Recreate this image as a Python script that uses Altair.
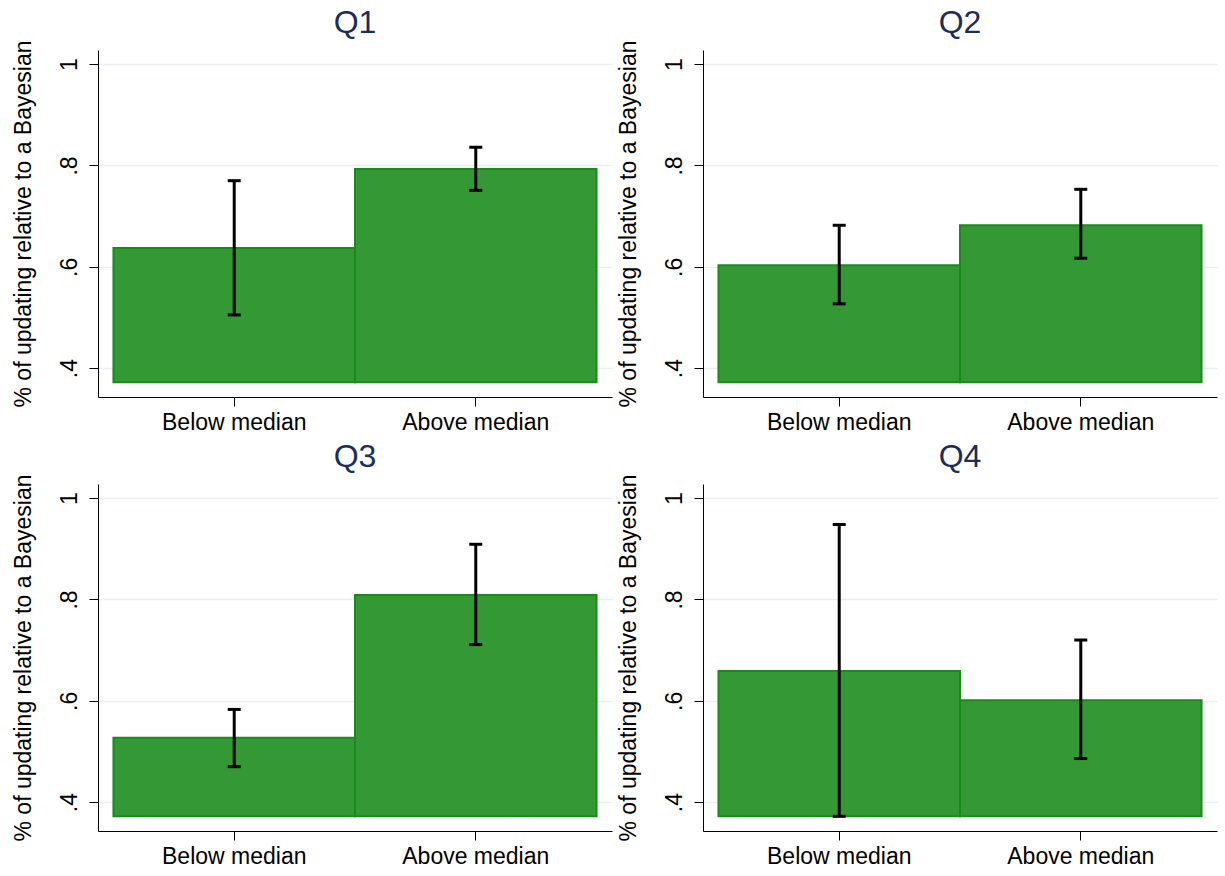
import altair as alt
import pandas as pd

# Share of updating relative to a Bayesian, by quartile panel and group
panels = ["Q1", "Q2", "Q3", "Q4"]
groups = ["Below median", "Above median"]
means = [[0.637, 0.793], [0.603, 0.682], [0.527, 0.809], [0.659, 0.601]]
ci_low = [[0.505, 0.751], [0.527, 0.617], [0.470, 0.711], [0.372, 0.486]]
ci_high = [[0.770, 0.836], [0.682, 0.753], [0.583, 0.909], [0.948, 0.720]]
bar_base = 0.372
y_ticks = [0.4, 0.6, 0.8, 1.0]
y_domain = [0.343, 1.028]

rows = []
for i, p in enumerate(panels):
    for j, g in enumerate(groups):
        rows.append({"panel": p, "group": g, "mean": means[i][j],
                     "lo": ci_low[i][j], "hi": ci_high[i][j], "base": bar_base})
df = pd.DataFrame(rows)

FONT = "Liberation Sans"
Y_TITLE = "% of updating relative to a Bayesian"


def panel(name):
    base = alt.Chart(df).transform_filter(alt.datum.panel == name)
    x = alt.X("group:N", sort=groups,
              scale=alt.Scale(paddingInner=0, paddingOuter=0.064),
              axis=alt.Axis(title=None, labelAngle=0, tickSize=9,
                            labelPadding=5, grid=False))
    yscale = alt.Scale(domain=y_domain, nice=False, zero=False)
    bars = base.mark_bar(fill="#349934", stroke="#1a8a1a", strokeWidth=2).encode(
        x=x,
        y=alt.Y("mean:Q", scale=yscale,
                axis=alt.Axis(title=Y_TITLE, values=y_ticks, tickSize=9,
                              labelAngle=270, labelAlign="center",
                              labelBaseline="bottom", labelPadding=8,
                              titlePadding=23,
                              labelExpr="datum.value >= 1 ? '1' : slice(format(datum.value, '.1f'), 1)")),
        y2="base:Q",
    )
    rule = base.mark_rule(color="black", strokeWidth=3).encode(
        x=x, y=alt.Y("lo:Q", scale=yscale), y2="hi:Q")
    cap_lo = base.mark_tick(color="black", size=13, thickness=3, opacity=1).encode(
        x=x, y=alt.Y("lo:Q", scale=yscale))
    cap_hi = base.mark_tick(color="black", size=13, thickness=3, opacity=1).encode(
        x=x, y=alt.Y("hi:Q", scale=yscale))
    return alt.layer(bars, rule, cap_lo, cap_hi).properties(
        width=514, height=347,
        title=alt.TitleParams(name, fontSize=32, font=FONT, fontWeight="normal",
                              color="#1c2c5b", anchor="middle", baseline="bottom",
                              offset=-32),
    )


chart = alt.concat(
    *[panel(p) for p in panels],
    columns=2,
    spacing=alt.RowColnumber(row=87, column=91),
    bounds="flush",
).properties(
    padding={"left": 12, "top": 7, "right": 2, "bottom": 3},
    background="white",
).configure_view(
    stroke=None,
).configure_axis(
    labelFont=FONT, titleFont=FONT, labelFontSize=23, titleFontSize=23,
    labelColor="black", titleColor="black", titleFontWeight="normal",
    domainColor="black", tickColor="black", domainWidth=1, tickWidth=1,
    gridColor="#e8eef2", gridWidth=1.5,
)

chart.save("out.html", embed_options={"renderer": "svg", "actions": False})
